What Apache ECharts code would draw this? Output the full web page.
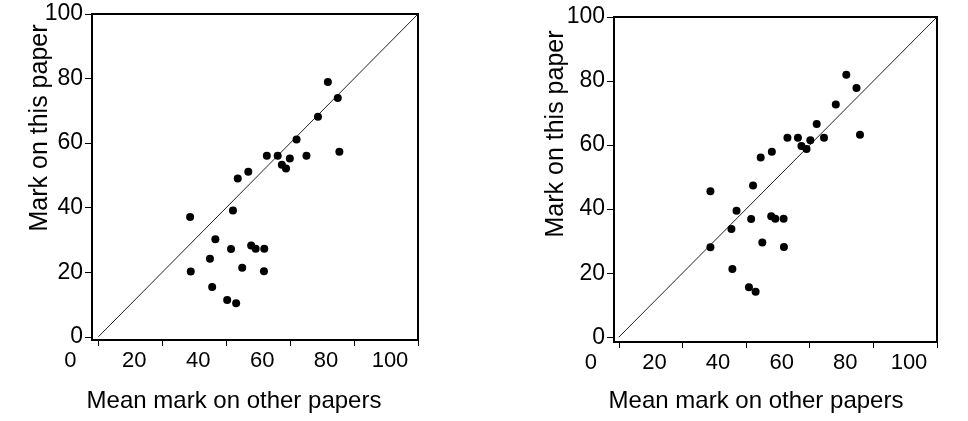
<!DOCTYPE html>
<html>
<head>
<meta charset="utf-8">
<script src="https://cdn.jsdelivr.net/npm/echarts@6/dist/echarts.min.js"></script>
<style>
html,body{margin:0;padding:0;background:#fff;}
#c{width:968px;height:421px;}
</style>
</head>
<body>
<div id="c"></div>
<script>
// Axis ticks / labels
var tickValues = [0, 20, 40, 60, 80, 100];
var xName = 'Mean mark on other papers';
var yName = 'Mark on this paper';
// Reference line y = x
var diagonal = [[0, 0], [100, 100]];

// Left panel: [mean mark on other papers, mark on this paper]
var leftX = [28.7, 28.9, 34.9, 36.6, 35.6, 40.3, 43.1, 41.5, 42.1, 43.6, 45.0, 46.9, 47.8, 49.2, 51.9, 51.8, 52.7, 56.1, 57.4, 58.7, 59.9, 62.0, 65.1, 68.7, 71.8, 74.9, 75.4];
var leftY = [37.1, 20.2, 24.2, 30.2, 15.4, 11.4, 10.4, 27.2, 39.1, 49.0, 21.4, 51.1, 28.3, 27.3, 27.3, 20.3, 56.1, 56.1, 53.3, 52.1, 55.2, 61.1, 56.1, 68.2, 78.9, 74.0, 57.3];

// Right panel
var rightX = [28.8, 28.8, 35.4, 37.0, 35.7, 40.9, 43.0, 41.6, 42.2, 44.6, 45.1, 48.1, 47.9, 49.2, 51.8, 51.9, 53.0, 56.3, 57.4, 59.0, 60.2, 62.2, 64.5, 68.2, 71.5, 74.7, 75.8];
var rightY = [45.6, 28.1, 33.8, 39.5, 21.3, 15.6, 14.2, 36.9, 47.4, 56.1, 29.6, 57.9, 37.8, 37.0, 37.0, 28.2, 62.3, 62.3, 59.7, 58.8, 61.5, 66.6, 62.3, 72.7, 82.0, 77.8, 63.2];

function pairs(xs, ys) { return xs.map(function (v, i) { return [v, ys[i]]; }); }

var FONT = 'Liberation Sans, Arial, sans-serif';

function xAxisDef(gi, minV) {
  return {
    type: 'value', gridIndex: gi, min: minV, max: 100,
    axisLine: { show: true, onZero: false, lineStyle: { color: '#000', width: 2 } },
    axisTick: { show: true, customValues: tickValues, length: 6, lineStyle: { color: '#000', width: 1 } },
    axisLabel: { customValues: tickValues, color: '#000', fontSize: 22, fontFamily: FONT, margin: 10, padding: [0, 56, 0, 0] },
    splitLine: { show: false }
  };
}
function yAxisDef(gi, minV) {
  return {
    type: 'value', gridIndex: gi, min: minV, max: 100,
    axisLine: { show: true, onZero: false, lineStyle: { color: '#000', width: 2 } },
    axisTick: { show: true, customValues: tickValues, length: 7, lineStyle: { color: '#000', width: 1 } },
    axisLabel: { customValues: tickValues, color: '#000', fontSize: 23, fontFamily: FONT, margin: 9 },
    splitLine: { show: false }
  };
}

var chart = echarts.init(document.getElementById('c'), null, { renderer: 'canvas' });
chart.setOption({
  backgroundColor: '#fff',
  animation: false,
  grid: [
    { left: 92, top: 14, width: 326, height: 326, show: true, borderColor: '#000', borderWidth: 2, backgroundColor: 'transparent' },
    { left: 614, top: 17, width: 323, height: 325, show: true, borderColor: '#000', borderWidth: 2, backgroundColor: 'transparent' }
  ],
  xAxis: [xAxisDef(0, -2), xAxisDef(1, -1.5)],
  yAxis: [yAxisDef(0, -1), yAxisDef(1, -1.5)],
  graphic: [
    { type: 'text', x: 40, y: 128, rotation: Math.PI / 2, style: { text: yName, font: '25px ' + FONT, fill: '#000', align: 'center', verticalAlign: 'middle' } },
    { type: 'text', x: 556, y: 134, rotation: Math.PI / 2, style: { text: yName, font: '25px ' + FONT, fill: '#000', align: 'center', verticalAlign: 'middle' } },
    { type: 'text', x: 234, y: 401, style: { text: xName, font: '24px ' + FONT, fill: '#000', align: 'center', verticalAlign: 'middle' } },
    { type: 'text', x: 756, y: 401, style: { text: xName, font: '24px ' + FONT, fill: '#000', align: 'center', verticalAlign: 'middle' } }
  ],
  series: [
    { type: 'line', xAxisIndex: 0, yAxisIndex: 0, data: diagonal, symbol: 'none', lineStyle: { color: '#222', width: 1 }, z: 1 },
    { type: 'line', xAxisIndex: 1, yAxisIndex: 1, data: diagonal, symbol: 'none', lineStyle: { color: '#222', width: 1 }, z: 1 },
    { type: 'scatter', xAxisIndex: 0, yAxisIndex: 0, data: pairs(leftX, leftY), symbolSize: 8, itemStyle: { color: '#000', opacity: 1 }, z: 3 },
    { type: 'scatter', xAxisIndex: 1, yAxisIndex: 1, data: pairs(rightX, rightY), symbolSize: 8, itemStyle: { color: '#000', opacity: 1 }, z: 3 }
  ]
});
</script>
</body>
</html>
